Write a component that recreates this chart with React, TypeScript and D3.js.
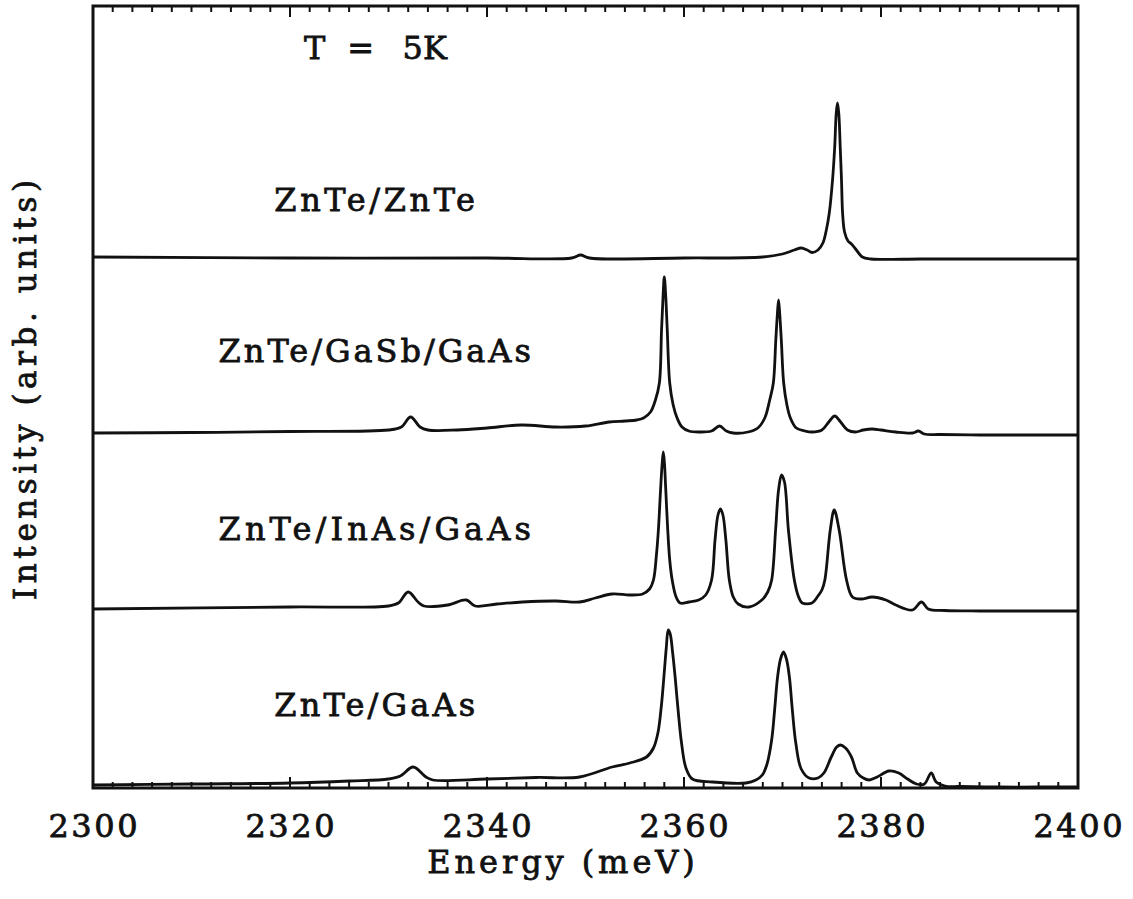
import * as d3 from 'd3'

type Pt = [number, number]

// PL spectra: [energy (meV), intensity (arb., stacked)]
const ZNTE_ZNTE: Pt[] = [
  [2300, 53.1], [2320, 53.0], [2340, 53.0], [2348.6, 53.0], [2349.5, 53.3], [2350.4, 53.0],
  [2360, 53.0], [2368, 53.1], [2370, 53.4], [2371.2, 53.8], [2371.9, 54.0], [2372.5, 53.8],
  [2373.0, 53.55], [2373.6, 53.8], [2374.1, 54.5], [2374.45, 55.8], [2374.75, 57.5],
  [2375.08, 60.8], [2375.3, 64.1], [2375.45, 67.4], [2375.58, 68.5], [2375.72, 67.4],
  [2375.86, 64.1], [2375.99, 60.8], [2376.1, 57.5], [2376.3, 55.6], [2376.65, 54.7],
  [2377.0, 54.4], [2377.5, 53.8], [2378.1, 53.1], [2379, 52.9], [2384, 52.9], [2390, 52.9],
  [2400, 52.9],
]

const ZNTE_GASB_GAAS: Pt[] = [
  [2300, 35.5], [2310, 35.55], [2320, 35.65], [2330, 35.8], [2331.3, 36.1], [2332.25, 37.1],
  [2333.2, 36.1], [2334, 35.8], [2337, 35.8], [2340, 36.0], [2343.5, 36.3], [2347, 36.1],
  [2350, 36.2], [2352.4, 36.6], [2354, 36.7], [2355.2, 36.8], [2355.9, 37.0], [2356.6, 37.6],
  [2357.1, 38.8], [2357.5, 40.5], [2357.72, 45.8], [2357.88, 49.3], [2358.0, 51.1],
  [2358.14, 49.3], [2358.3, 45.8], [2358.55, 40.5], [2358.9, 38.3], [2359.3, 37.0],
  [2359.8, 36.1], [2360.5, 35.7], [2361.5, 35.6], [2362.8, 35.7], [2363.6, 36.2],
  [2364.3, 35.7], [2365.0, 35.5], [2366.5, 35.6], [2367.5, 36.0], [2368.2, 37.0],
  [2368.7, 38.8], [2369.07, 40.5], [2369.32, 44.8], [2369.48, 47.4], [2369.6, 48.8],
  [2369.72, 47.4], [2369.88, 44.8], [2370.12, 40.5], [2370.45, 38.3], [2370.8, 37.0],
  [2371.4, 36.0], [2372.3, 35.7], [2373.0, 35.6], [2374.0, 35.8], [2374.7, 36.6],
  [2375.3, 37.2], [2375.9, 36.6], [2376.6, 35.8], [2377.4, 35.6], [2378.2, 35.8],
  [2379.1, 35.9], [2380.0, 35.8], [2381.5, 35.6], [2383.2, 35.5], [2383.8, 35.7],
  [2384.4, 35.4], [2386, 35.35], [2390, 35.3], [2395, 35.3], [2400, 35.3],
]

const ZNTE_INAS_GAAS: Pt[] = [
  [2300, 17.9], [2320, 18.1], [2330, 18.2], [2331.0, 18.5], [2332.0, 19.6], [2333.0, 18.6],
  [2333.6, 18.2], [2336, 18.3], [2337.9, 18.8], [2338.8, 18.2], [2341, 18.4], [2343.6, 18.6],
  [2347, 18.7], [2349.4, 18.6], [2351, 19.0], [2352.7, 19.4], [2354.5, 19.3], [2355.8, 19.4],
  [2356.5, 19.9], [2356.9, 20.8], [2357.2, 23.3], [2357.4, 25.8], [2357.62, 29.8],
  [2357.78, 32.4], [2357.9, 33.6], [2358.02, 32.4], [2358.15, 29.8], [2358.35, 25.8],
  [2358.55, 22.8], [2358.8, 20.8], [2359.2, 19.1], [2359.6, 18.5], [2360.5, 18.6],
  [2361.5, 18.8], [2362.2, 19.3], [2362.8, 20.8], [2363.15, 24.8], [2363.45, 27.3],
  [2363.7, 27.9], [2363.95, 27.3], [2364.25, 24.8], [2364.6, 20.8], [2365.0, 19.1],
  [2365.5, 18.4], [2366.6, 18.1], [2367.9, 18.8], [2368.5, 19.6], [2368.9, 20.8],
  [2369.3, 25.8], [2369.6, 29.8], [2369.9, 31.3], [2370.2, 30.6], [2370.6, 25.8],
  [2371.2, 20.8], [2371.6, 19.2], [2372.0, 18.5], [2373.0, 18.5], [2373.6, 19.2],
  [2374.0, 19.8], [2374.3, 20.8], [2374.85, 25.8], [2375.25, 27.8], [2375.75, 25.8],
  [2376.5, 20.8], [2377.1, 19.1], [2378.0, 18.9], [2379.1, 19.1], [2380.5, 18.8],
  [2381.5, 18.3], [2383.2, 17.8], [2384.1, 18.6], [2384.8, 17.9], [2386.5, 17.75],
  [2390, 17.7], [2395, 17.7], [2400, 17.7],
]

const ZNTE_GAAS: Pt[] = [
  [2300, 0.3], [2310, 0.4], [2320, 0.5], [2326, 0.7], [2330, 0.9], [2331.2, 1.2], [2332.5, 2.1],
  [2333.8, 1.1], [2334.5, 0.8], [2340, 0.9], [2345, 1.05], [2349.4, 1.1], [2352.7, 2.1],
  [2354.5, 2.5], [2356.2, 3.1], [2356.9, 4.0], [2357.35, 5.5], [2357.7, 8.2], [2358.0, 11.6],
  [2358.2, 14.0], [2358.4, 15.8], [2358.6, 15.4], [2358.85, 13.5], [2359.1, 11.1],
  [2359.4, 7.8], [2359.75, 4.5], [2360.2, 2.0], [2360.85, 0.9], [2362.9, 0.6], [2366.3, 0.5],
  [2367.3, 0.8], [2367.95, 1.3], [2368.4, 2.3], [2368.9, 4.8], [2369.2, 7.8], [2369.5, 11.1],
  [2369.8, 12.9], [2370.1, 13.6], [2370.4, 12.9], [2370.7, 11.1], [2371.0, 7.8],
  [2371.35, 4.5], [2371.9, 1.9], [2372.7, 1.0], [2373.6, 1.0], [2374.2, 1.5], [2374.95, 3.1],
  [2375.5, 4.1], [2375.9, 4.3], [2376.4, 4.0], [2377.0, 3.1], [2377.6, 1.5], [2378.2, 1.0],
  [2378.8, 0.8], [2379.6, 1.1], [2380.8, 1.7], [2381.8, 1.5], [2382.7, 0.9], [2383.6, 0.4],
  [2384.4, 0.4], [2385.1, 1.5], [2385.6, 0.6], [2386.5, 0.2], [2388, 0.15], [2392, 0.1],
  [2396, 0.1], [2400, 0.1],
]

const SERIES = [ZNTE_ZNTE, ZNTE_GASB_GAAS, ZNTE_INAS_GAAS, ZNTE_GAAS]
const SERIES_LABELS = ['ZnTe/ZnTe', 'ZnTe/GaSb/GaAs', 'ZnTe/InAs/GaAs', 'ZnTe/GaAs']
// label anchor (centre energy, baseline intensity)
const LABEL_AT: Pt[] = [[2328.6, 57.7], [2328.6, 42.6], [2328.6, 24.8], [2328.6, 7.2]]
// "T = 5K" is set in three pieces, like the plotter spacing
const TEMP_PARTS = ['T', '=', '5K']
const TEMP_DX = [-60, -14, 50]
const TEMP_AT: Pt = [2328.6, 72.9]

const X_MAJOR = [2300, 2320, 2340, 2360, 2380, 2400]
const X_MINOR = d3.range(2302, 2400, 2)

const W = 1133
const H = 899
const M = { top: 6, right: 55, bottom: 111, left: 93 }
const FONT = "'DejaVu Serif', serif"
const CHAR_W = 22.3
const INK = '#111'

export default function App() {
  const x = d3.scaleLinear().domain([2300, 2400]).range([M.left, W - M.right])
  const y = d3.scaleLinear().domain([0, 78.2]).range([H - M.bottom, M.top])

  const line = d3
    .line<Pt>()
    .x((d) => x(d[0]))
    .y((d) => y(d[1]))
    .curve(d3.curveCatmullRom.alpha(0.5))

  const x0 = M.left
  const x1 = W - M.right
  const y0 = H - M.bottom
  const y1 = M.top

  // plain weight thickened a little with a stroke, close to the plotter font
  const txt = {
    fontSize: 32,
    fill: INK,
    stroke: INK,
    strokeWidth: 0.8,
    lengthAdjust: 'spacing' as const,
  }

  return (
    <svg
      width={W}
      height={H}
      style={{ position: 'absolute', left: 0, top: 0, background: '#fff' }}
      fontFamily={FONT}
    >
      {/* spectra */}
      {SERIES.map((s, i) => (
        <path key={i} d={line(s) ?? ''} fill="none" stroke={INK} strokeWidth={2.8} strokeLinejoin="round" />
      ))}

      {/* inward ticks on top and bottom */}
      {X_MINOR.filter((v) => v % 20 !== 0).map((v) => (
        <g key={v} stroke={INK} strokeWidth={2}>
          <line x1={x(v)} x2={x(v)} y1={y0} y2={y0 - 6} />
          <line x1={x(v)} x2={x(v)} y1={y1} y2={y1 + 6} />
        </g>
      ))}
      {X_MAJOR.map((v) => (
        <g key={v} stroke={INK} strokeWidth={2}>
          <line x1={x(v)} x2={x(v)} y1={y0} y2={y0 - 11} />
          <line x1={x(v)} x2={x(v)} y1={y1} y2={y1 + 11} />
        </g>
      ))}

      {/* frame */}
      <rect x={x0} y={y1} width={x1 - x0} height={y0 - y1} fill="none" stroke={INK} strokeWidth={3} />

      {/* tick labels */}
      {X_MAJOR.map((v) => (
        <text key={v} x={x(v)} y={y0 + 49} textAnchor="middle" {...txt} textLength={String(v).length * CHAR_W}>
          {v}
        </text>
      ))}

      {/* series labels */}
      {SERIES_LABELS.map((lab, i) => (
        <text
          key={lab}
          x={x(LABEL_AT[i][0])}
          y={y(LABEL_AT[i][1])}
          textAnchor="middle"
          {...txt}
          textLength={lab.length * CHAR_W}
        >
          {lab}
        </text>
      ))}
      {TEMP_PARTS.map((p, i) => (
        <text
          key={p}
          x={x(TEMP_AT[0]) + TEMP_DX[i]}
          y={y(TEMP_AT[1])}
          textAnchor="middle"
          {...txt}
          textLength={p.length * CHAR_W}
        >
          {p}
        </text>
      ))}

      {/* axis titles */}
      <text x={561} y={873} textAnchor="middle" {...txt} textLength={12 * CHAR_W}>
        Energy (meV)
      </text>
      <text
        transform="translate(36,390) rotate(-90)"
        textAnchor="middle"
        {...txt}
        fontSize={31}
        textLength={420}
      >
        Intensity (arb. units)
      </text>
    </svg>
  )
}
